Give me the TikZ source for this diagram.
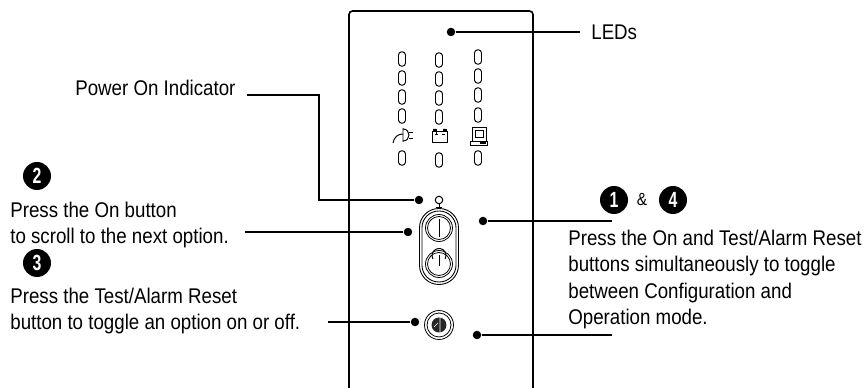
\documentclass[tikz,border=0pt]{standalone}
\usepackage{fontspec}
\setmainfont[FakeStretch=0.88]{Liberation Sans}
\newfontfamily\badgefont[FakeStretch=0.72]{Liberation Sans Bold}
\tikzset{
  lbl/.style={font=\fontsize{12.1}{14.9}\selectfont,inner sep=0pt,align=left},
  dot/.style={circle,fill=black,inner sep=0pt,minimum size=0.17cm},
  badge/.style={circle,fill=black,text=white,inner sep=0pt,minimum size=0.56cm,font=\badgefont\fontsize{12.5}{12.5}\selectfont},
  leader/.style={line width=0.6pt},
  led/.style={draw,rectangle,line width=0.55pt,inner sep=0pt,minimum width=0.14cm,minimum height=0.29cm,rounded corners=0.065cm},
  icon/.style={line width=0.55pt},
  ring/.style={draw,circle,line width=0.45pt,inner sep=0pt},
  oval/.style={draw,rectangle,line width=0.5pt,inner sep=0pt}
}
\begin{document}
\begin{tikzpicture}[x=0.02cm,y=-0.02cm]
\useasboundingbox (0,0) rectangle (867,388);
%%Panel
\draw[line width=0.95pt,rounded corners=0.07cm] (349,388)--(349,11)--(533,11)--(533,388);

%%LEDs
\foreach \r/\y in {1/59,2/78,3/97,4/116,5/158}
  \node[led] (ledA\r) at (402,\y) {};
\foreach \r/\y in {1/60,2/79,3/98,4/117,5/160}
  \node[led] (ledB\r) at (439,\y) {};
\foreach \r/\y in {1/57,2/76,3/95,4/115,5/158}
  \node[led] (ledC\r) at (478,\y) {};

%%Plug
\draw[icon] (393,143) .. controls (394,137) and (398,134) .. (403,134);
\draw[icon] (403,128)--(403,142) (403,129) .. controls (407,129) and (409,132) .. (409,135) .. controls (409,138) and (407,141) .. (403,141);
\draw[icon] (409,132)--(413,132) (409,138)--(413,138);

%%Battery
\draw[icon] (432,131) rectangle (447,142);
\draw[icon,fill=black] (433,129) rectangle (436,131) (443,129) rectangle (446,131);
\draw[icon] (435,134)--(438,134) (436.5,132.5)--(436.5,135.5) (442,134)--(445,134);

%%Computer
\draw[icon] (472,127) rectangle (486,141) (475,130) rectangle (483,137);
\draw[icon] (470,141) rectangle (487,145);
\draw[line width=1pt] (480,143)--(486,143);

%%Power On Indicator
\node[ring,line width=0.6pt,minimum size=0.15cm] (indicator) at (439,200) {};
\draw[icon] (436,207)--(442,207) (439,204)--(439,207);

%%On and Test buttons
\node[oval,minimum width=0.78cm,minimum height=1.52cm,rounded corners=0.385cm] (ovalA) at (439,246.5) {};
\node[oval,minimum width=0.68cm,minimum height=1.42cm,rounded corners=0.335cm] (ovalB) at (439,246.5) {};
\node[ring,minimum size=0.54cm] (onA) at (439,228) {};
\node[ring,minimum size=0.46cm] (onB) at (439,228) {};
\node[ring,minimum size=0.54cm] (offA) at (439,264) {};
\node[ring,minimum size=0.46cm] (offB) at (439,264) {};
\draw[icon] (439,219)--(439,237);
\draw[icon] (439,255)--(439,266);
\draw[icon] (433,259) arc (150:390:7);

%%Test/Alarm Reset button
\node[ring,minimum size=0.58cm] (resetA) at (439,325) {};
\node[ring,minimum size=0.48cm] (resetB) at (439,325) {};
\node[circle,fill=black!85,inner sep=0pt,minimum size=0.3cm] (resetC) at (439,325) {};
\draw[white,line width=0.4pt] (440,318)--(440,332) (434,327)--(438,323);

%%Dots
\node[dot] (dotLeds) at (451,32) {};
\node[dot] (dotPower) at (419,200) {};
\node[dot] (dotOn) at (408,232) {};
\node[dot] (dotBoth) at (483,221) {};
\node[dot] (dotReset) at (415,322) {};
\node[dot] (dotBothB) at (477,335) {};

%%Leader ends
\coordinate (endLeds) at (580,32);
\coordinate (endPower) at (247,95);
\coordinate (endOn) at (245,232);
\coordinate (endBoth) at (612,221);
\coordinate (endReset) at (328,322);
\coordinate (endBothB) at (612,335);

%%Leaders
\draw[leader] (dotLeds) -- (endLeds);
\draw[leader] (dotPower) -| (319,95) -- (endPower);
\draw[leader] (dotOn) -- (endOn);
\draw[leader] (dotBoth) -- (endBoth);
\draw[leader] (dotReset) -- (endReset);
\draw[leader] (dotBothB) -- (endBothB);

%%Badges
\node[badge] (badgeTwo) at (37,176) {2};
\node[badge] (badgeThree) at (37,263) {3};
\node[badge] (badgeOne) at (614,200) {1};
\node[badge] (badgeFour) at (673,200) {4};

%%Label
\node[lbl,anchor=base west] (lblLeds) at (591,40) {LEDs};
\node[lbl,anchor=base west] (lblPower) at (75,96) {Power On Indicator};
\node[lbl,anchor=base,font=\fontsize{10}{12}\selectfont] (lblAmp) at (642,206) {\&};
\node[lbl,anchor=north west] (lblOn) at (10,202) {Press the On button\\to scroll to the next option.};
\node[lbl,anchor=north west] (lblReset) at (10,288) {Press the Test/Alarm Reset\\button to toggle an option on or off.};
\node[lbl,anchor=north west] (lblBoth) at (568,230) {Press the On and Test/Alarm Reset\\buttons simultaneously to toggle\\between Configuration and\\Operation mode.};

\end{tikzpicture}
\end{document}
